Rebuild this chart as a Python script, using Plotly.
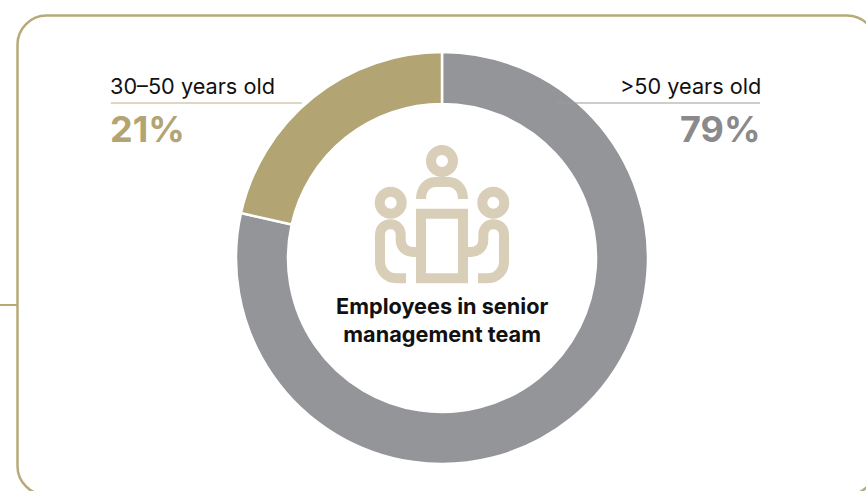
import plotly.graph_objects as go

W, H = 866, 491

# Data
categories = [">50 years old", "30–50 years old"]
values = [78.5, 21.5]
percent_labels = ["79%", "21%"]
center_title = "Employees in senior<br>management team"

# Style
GREY = "#939598"
GOLD = "#B2A473"
BORDER = "#B8AA78"
ICON = "#D9CFB8"
FONT = "Inter"


def px(x):
    return x / W


def py(y):
    return 1 - y / H


def path(cmds):
    out = []
    for c in cmds:
        if isinstance(c, str):
            out.append(c)
        else:
            out.append(f"{px(c[0]):.5f},{py(c[1]):.5f}")
    return " ".join(out)


def path_shape(cmds, color, width):
    return dict(type="path", xref="paper", yref="paper", path=path(cmds),
                line=dict(color=color, width=width), fillcolor="rgba(0,0,0,0)", layer="above")


def line_shape(x0, y0, x1, y1, color, width, layer="above"):
    return dict(type="line", xref="paper", yref="paper", x0=px(x0), y0=py(y0), x1=px(x1), y1=py(y1),
                line=dict(color=color, width=width), layer=layer)


def circle_shape(cx, cy, r, color, width):
    return dict(type="circle", xref="paper", yref="paper", x0=px(cx - r), x1=px(cx + r),
                y0=py(cy + r), y1=py(cy - r), line=dict(color=color, width=width),
                fillcolor="rgba(0,0,0,0)", layer="above")


def arm(m):
    f = (lambda x: x) if m == 0 else (lambda x: 884 - x)
    return ["M", (f(406), 278.3), "L", (f(396.5), 278.3),
            "C", (f(386), 278.3), (f(380), 270), (f(380), 262),
            "L", (f(380), 235),
            "C", (f(380), 228), (f(385), 224.3), (f(390.5), 224.3),
            "C", (f(396), 224.3), (f(400.7), 228), (f(400.7), 235),
            "L", (f(400.7), 240),
            "C", (f(400.7), 247), (f(406), 252), (f(413), 252),
            "L", (f(421), 252)]


r = 29
L, T, R, B = 17.5, 15.5, 876, 495
k = r * 0.45
border = ["M", (L + r, T), "L", (R - r, T),
          "C", (R - k, T), (R, T + k), (R, T + r),
          "L", (R, B - r),
          "C", (R, B - k), (R - k, B), (R - r, B),
          "L", (L + r, B),
          "C", (L + k, B), (L, B - k), (L, B - r),
          "L", (L, T + r),
          "C", (L, T + k), (L + k, T), (L + r, T), "Z"]

shapes = [
    path_shape(border, BORDER, 2.5),
    line_shape(0, 305, 17, 305, BORDER, 2),
    line_shape(111, 103, 302, 103, "#BDB084", 1.2),
    line_shape(557, 103, 760, 103, "#9C9C9E", 1.2),
    # icon
    circle_shape(442, 161, 11, ICON, 10),
    circle_shape(390.7, 202.7, 11, ICON, 10),
    circle_shape(493.3, 202.7, 11, ICON, 10),
    path_shape(["M", (421, 199), "C", (421, 188), (428, 182), (435, 182),
                "L", (449, 182), "C", (456, 182), (463, 188), (463, 199)], ICON, 10),
    path_shape(["M", (421, 213.7), "L", (463, 213.7), "L", (463, 278.3), "L", (421, 278.3), "Z"], ICON, 10),
    path_shape(arm(0), ICON, 10),
    path_shape(arm(1), ICON, 10),
]


def note(x, y, text, size, color, anchor, bold=False):
    return dict(xref="paper", yref="paper", x=px(x), y=py(y), text=f"<b>{text}</b>" if bold else text,
                showarrow=False, xanchor=anchor, yanchor="middle", align="center",
                font=dict(family=FONT, size=size, color=color), borderpad=0, borderwidth=0)


annotations = [
    note(110, 86, categories[1], 21.7, "#111111", "left"),
    note(761, 86, categories[0], 21.7, "#111111", "right"),
    note(109.5, 129, percent_labels[1], 36, GOLD, "left", True),
    note(761, 129, percent_labels[0], 36, "#8A8A8C", "right", True),
    note(442, 319.5, center_title, 21.7, "#111111", "center", True),
]

fig = go.Figure(go.Pie(
    labels=categories, values=values, sort=False, direction="clockwise", rotation=0,
    hole=154 / 206, textinfo="none", showlegend=False, hoverinfo="label+percent",
    marker=dict(colors=[GREY, GOLD], line=dict(color="#FFFFFF", width=2.5)),
    domain=dict(x=[px(236), px(648)], y=[py(464), py(52)]),
))

fig.update_layout(
    width=W, height=H, margin=dict(l=0, r=0, t=0, b=0, autoexpand=False),
    paper_bgcolor="#FFFFFF", plot_bgcolor="#FFFFFF",
    shapes=shapes, annotations=annotations, font=dict(family=FONT),
)

fig.write_html("out.html", config=dict(displayModeBar=False),
               post_script="document.body.style.margin='0';")
